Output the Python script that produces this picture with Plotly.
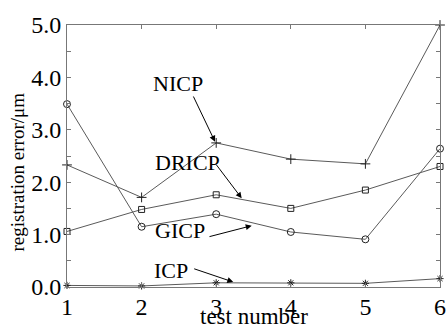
import plotly.graph_objects as go

tests = [1, 2, 3, 4, 5, 6]
nicp = [2.33, 1.71, 2.75, 2.44, 2.35, 5.0]
dricp = [1.06, 1.48, 1.76, 1.50, 1.85, 2.30]
gicp = [3.49, 1.15, 1.39, 1.05, 0.91, 2.64]
icp = [0.03, 0.02, 0.08, 0.08, 0.07, 0.16]

x_ticks = [1, 2, 3, 4, 5, 6]
y_ticks = [0, 1, 2, 3, 4, 5]
y_ticklabels = ["0.0", "1.0", "2.0", "3.0", "4.0", "5.0"]

FONT = "Liberation Serif"
LINE = "#5a5a5a"

fig = go.Figure()
series = [
    ("NICP", nicp, "cross-thin-open", 7),
    ("DRICP", dricp, "square-open", 6),
    ("GICP", gicp, "circle-open", 7),
    ("ICP", icp, "asterisk-open", 6),
]
for name, vals, sym, sz in series:
    fig.add_trace(go.Scatter(
        x=tests, y=vals, mode="lines+markers", name=name,
        line=dict(color=LINE, width=1),
        marker=dict(symbol=sym, size=sz, color="#222", line=dict(color="#222", width=1)),
        cliponaxis=False, showlegend=False,
    ))

# labels with arrows (text position, arrow tail, arrow head) in data coords
labels = [
    ("NICP", (2.49, 3.89), (2.685, 3.664), (2.984, 2.773)),
    ("DRICP", (2.615, 2.37), (2.984, 2.366), (3.342, 1.693)),
    ("GICP", (2.515, 1.07), (2.890, 0.954), (3.476, 1.170)),
    ("ICP", (2.394, 0.324), (2.685, 0.357), (3.229, 0.095)),
]
for text, (tx, ty), (ax_, ay_), (hx, hy) in labels:
    fig.add_annotation(x=tx, y=ty, xref="x", yref="y", text=text, showarrow=False,
                       font=dict(family=FONT, size=22, color="black"))
    fig.add_annotation(x=hx, y=hy, ax=ax_, ay=ay_, xref="x", yref="y", axref="x", ayref="y",
                       text="", showarrow=True, arrowhead=2, arrowsize=1.2, arrowwidth=1,
                       arrowcolor="black", standoff=0, startstandoff=0)

# axis titles
fig.add_annotation(x=0.501, y=-0.112, xref="paper", yref="paper", text="test number",
                   showarrow=False, xanchor="center", yanchor="middle",
                   font=dict(family=FONT, size=23, color="black"))
fig.add_annotation(x=-0.132, y=0.44, xref="paper", yref="paper", text="registration error/μm",
                   showarrow=False, xanchor="center", yanchor="middle", textangle=-90,
                   font=dict(family=FONT, size=19, color="black"))

axis_common = dict(
    showline=True, linecolor="#777", linewidth=1, mirror="ticks",
    ticks="inside", ticklen=4, tickcolor="#777", tickwidth=1,
    showgrid=False, zeroline=False, automargin=False,
    tickfont=dict(family=FONT, size=24, color="black"),
)
fig.update_xaxes(range=[1, 6], tickvals=x_ticks, ticktext=[str(v) for v in x_ticks],
                 ticklabelstandoff=-2, **axis_common)
fig.update_yaxes(range=[0, 5], tickvals=y_ticks, ticktext=y_ticklabels,
                 minor=dict(dtick=0.5, tick0=0, ticks="inside", ticklen=4, tickcolor="#777"),
                 ticklabelstandoff=0, **axis_common)

fig.update_layout(
    width=446, height=327,
    margin=dict(l=67, r=6, t=25, b=40, autoexpand=False),
    plot_bgcolor="white", paper_bgcolor="white",
    font=dict(family=FONT, color="black"),
)
fig.write_html("out.html", config={"displayModeBar": False},
               post_script="document.body.style.margin='0';document.body.style.overflow='hidden';")
